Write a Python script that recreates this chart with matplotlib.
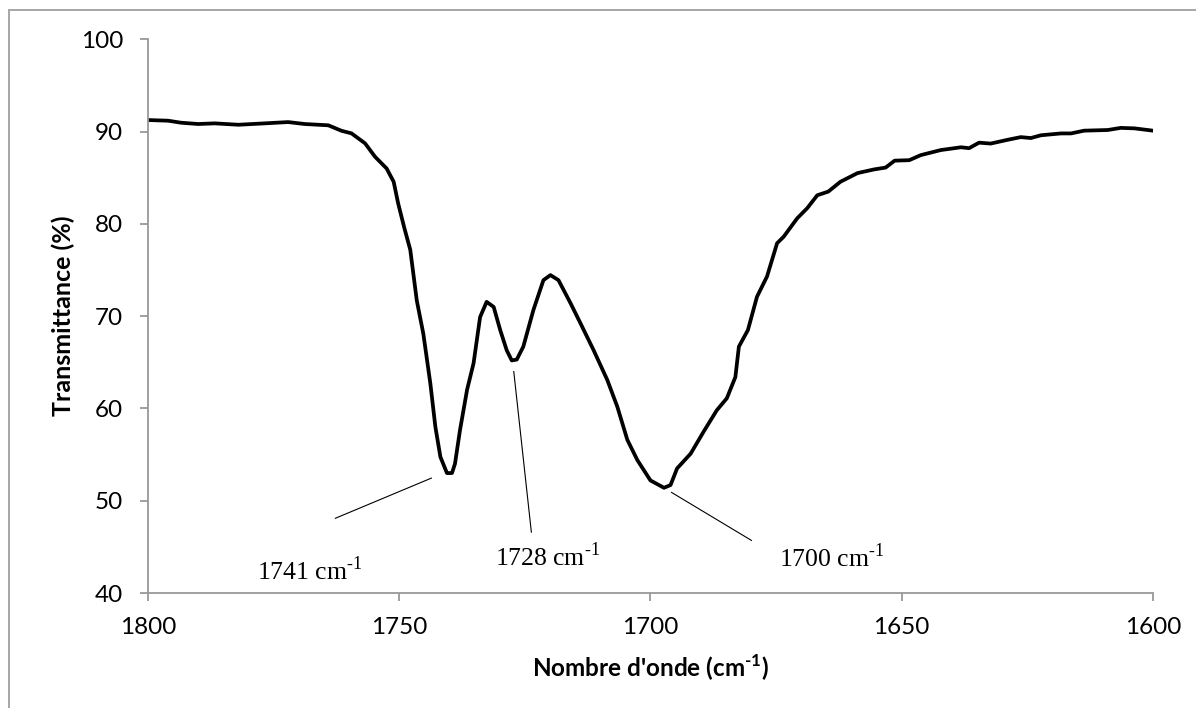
import numpy as np
import matplotlib
matplotlib.use("Agg")
import matplotlib.pyplot as plt
from matplotlib.lines import Line2D

# IR spectrum, carbonyl region
wavenumber = [1800, 1796, 1793.4, 1790, 1786.7, 1782, 1776.8, 1772.1, 1768.8, 1764.1,
              1761.5, 1759.5, 1756.8, 1754.8, 1752.5, 1751.1, 1750.2, 1749, 1747.8, 1746.5,
              1745.2, 1743.8, 1742.8, 1741.8, 1740.5, 1739.5, 1738.9, 1737.9, 1736.5, 1735.2,
              1733.9, 1732.6, 1731.2, 1729.9, 1728.6, 1727.6, 1726.6, 1725.3, 1723.3, 1721.3,
              1719.9, 1718.3, 1715.9, 1713.9, 1711.3, 1708.6, 1706.6, 1704.6, 1702.6, 1700.0,
              1697.3, 1696.0, 1694.7, 1692.0, 1689.4, 1686.8, 1684.8, 1683.1, 1682.4, 1680.6,
              1678.8, 1676.8, 1674.8, 1673.5, 1670.8, 1668.8, 1666.8, 1664.6, 1662.2, 1658.8,
              1655.5, 1653.2, 1651.4, 1648.5, 1646.2, 1642.2, 1638.2, 1636.6, 1634.6, 1632.3,
              1629.0, 1626.3, 1624.3, 1622.3, 1618.3, 1616.3, 1613.7, 1609.0, 1606.4, 1603.7,
              1600]
transmittance = [91.25, 91.18, 90.96, 90.82, 90.89, 90.74, 90.89, 91.03, 90.82, 90.68,
                 90.09, 89.81, 88.73, 87.27, 86.0, 84.56, 82.2, 79.6, 77.2, 71.7,
                 68.1, 62.7, 58.0, 54.75, 53.0, 53.0, 54.0, 57.65, 62.0, 64.9,
                 69.9, 71.55, 71.0, 68.5, 66.3, 65.2, 65.3, 66.7, 70.65, 73.9,
                 74.45, 73.9, 71.4, 69.2, 66.3, 63.1, 60.2, 56.6, 54.4, 52.2,
                 51.4, 51.7, 53.5, 55.1, 57.5, 59.8, 61.1, 63.4, 66.7, 68.5,
                 72.1, 74.3, 77.9, 78.6, 80.6, 81.7, 83.1, 83.5, 84.56, 85.5,
                 85.9, 86.1, 86.85, 86.9, 87.45, 88.0, 88.3, 88.2, 88.8, 88.7,
                 89.1, 89.4, 89.3, 89.6, 89.8, 89.8, 90.1, 90.17, 90.4, 90.35,
                 90.1]

# peak labels: text, text anchor (wn, %T), leader line start and end
peak_labels = ["1741 cm", "1728 cm", "1700 cm"]
label_pos = [(1778.3, 41.4), (1730.9, 42.9), (1674.5, 42.8)]
leader_lines = [((1762.7, 48.1), (1743.6, 52.45)),
                ((1727.2, 64.0), (1723.7, 46.6)),
                ((1695.8, 50.9), (1679.9, 45.7))]

xticks = [1800, 1750, 1700, 1650, 1600]
yticks = [40, 50, 60, 70, 80, 90, 100]

plt.rcParams['font.family'] = ['Lato', 'DejaVu Sans']
axis_grey = '#999999'
sup = r'$^{\mathregular{' + '\u2010' + r'1}}$'

fig = plt.figure(figsize=(11.96, 7.08), dpi=100)
ax = fig.add_axes([0.1237, 0.1624, 0.964 - 0.1237, 0.9445 - 0.1624])

ax.plot(wavenumber, transmittance, color='black', lw=2.7, solid_joinstyle='round')

for (txt, (tx, ty)) in zip(peak_labels, label_pos):
    ax.text(tx, ty, txt + sup, family='Liberation Serif',
            fontsize=18.5, ha='left', va='baseline')
for (p0, p1) in leader_lines:
    ax.plot([p0[0], p1[0]], [p0[1], p1[1]], color='black', lw=0.8)

ax.set_xlim(1800, 1600)
ax.set_ylim(40, 100)
ax.set_xticks(xticks)
ax.set_yticks(yticks)

for s in ['top', 'right']:
    ax.spines[s].set_visible(False)
for s in ['left', 'bottom']:
    ax.spines[s].set_color(axis_grey)
    ax.spines[s].set_linewidth(1.3)
ax.tick_params(direction='out', length=6, width=1.3, color=axis_grey,
               labelsize=17.5, labelcolor='black')
ax.tick_params(axis='y', pad=12)
ax.tick_params(axis='x', pad=11)

ax.set_ylabel('Transmittance (%)', fontsize=18, fontweight='bold', labelpad=4)
ax.set_xlabel("Nombre d'onde (cm" + sup + ")", fontsize=17.5,
              fontweight='bold', labelpad=11)

# light frame around the chart area
fig.add_artist(Line2D([9 / 1196, 9 / 1196], [0, 1 - 10 / 708], color='#a6a6a6',
                      lw=1.4, transform=fig.transFigure))
fig.add_artist(Line2D([9 / 1196, 1], [1 - 10 / 708, 1 - 10 / 708], color='#a6a6a6',
                      lw=1.4, transform=fig.transFigure))

fig.savefig('out.png', dpi=100, facecolor='white')
